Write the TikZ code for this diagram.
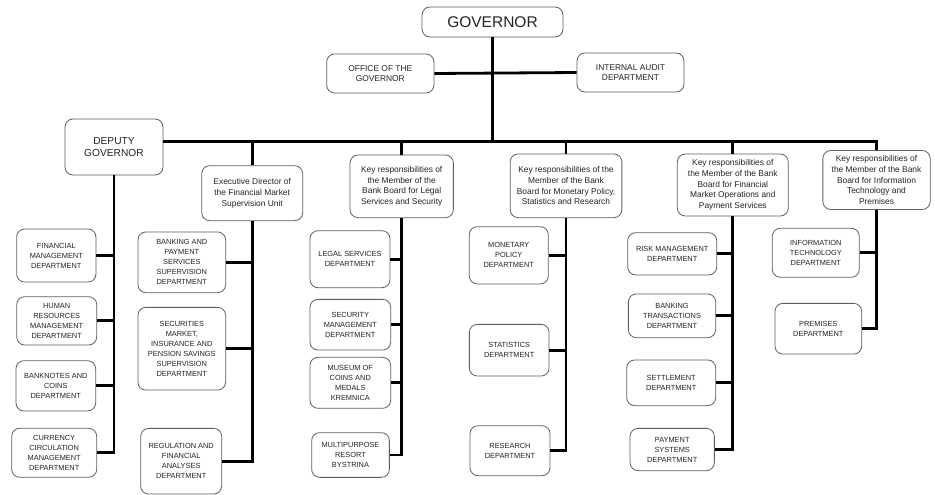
\documentclass[tikz,border=0pt]{standalone}
\usepackage{fontspec}
\setmainfont{Liberation Sans}
\definecolor{boxline}{RGB}{95,95,95}
\definecolor{ink}{RGB}{35,35,35}
\begin{document}
\begin{tikzpicture}[x=1pt,y=-1pt,
  orgbox/.style={draw=boxline, line width=0.8pt, rounded corners=8pt, align=center,
    inner sep=0pt, text=ink, fill=white},
  sz/.style 2 args={minimum width=#1pt, minimum height=#2pt},
  dept/.style={orgbox, font=\fontsize{7.4}{10}\selectfont},
  keybox/.style={orgbox, font=\fontsize{8.4}{10.7}\selectfont},
  link/.style={line width=2.8pt, draw=black}]
\fill[white] (0,0) rectangle (935,495);
\useasboundingbox (0,0) rectangle (935,495);

% top management
\node[orgbox, sz={141}{30}, font=\fontsize{15.5}{18}\selectfont] (gov) at (492.5,22) {GOVERNOR};
\node[keybox, sz={107.3}{39}] (office) at (380.3,73.5) {OFFICE OF THE\\GOVERNOR};
\node[keybox, sz={107}{39}] (audit) at (630.5,72.5) {INTERNAL AUDIT\\DEPARTMENT};
\node[orgbox, sz={98}{56}, font=\fontsize{10.2}{12.7}\selectfont] (deputy) at (114,147) {DEPUTY\\GOVERNOR};

% heads of units
\node[keybox, sz={101}{55}] (exec) at (252.2,193.2) {Executive Director of\\the Financial Market\\Supervision Unit};
\node[keybox, sz={103.3}{62.7}] (legalkey) at (401.7,186.3) {Key responsibilities of\\the Member of the\\Bank Board for Legal\\Services and Security};
\node[keybox, sz={111.7}{63.7}] (monkey) at (566,185.8) {Key responsibilities of the\\Member of the Bank\\Board for Monetary Policy,\\Statistics and Research};
\node[keybox, sz={111}{62}] (finkey) at (732.8,185) {Key responsibilities of\\the Member of the Bank\\Board for Financial\\Market Operations and\\Payment Services};
\node[keybox, sz={107.3}{59}] (itkey) at (876.5,180) {Key responsibilities of\\the Member of the Bank\\Board for Information\\Technology and\\Premises};

% deputy governor departments
\node[dept, sz={79.3}{53}] (fm) at (56.3,255.5) {FINANCIAL\\MANAGEMENT\\DEPARTMENT};
\node[dept, sz={80}{48.3}] (hr) at (56.7,320.8) {HUMAN\\RESOURCES\\MANAGEMENT\\DEPARTMENT};
\node[dept, sz={79.7}{50.3}] (bank) at (55.8,385.8) {BANKNOTES AND\\COINS\\DEPARTMENT};
\node[dept, sz={85}{49}] (curr) at (54.2,452.8) {CURRENCY\\CIRCULATION\\MANAGEMENT\\DEPARTMENT};

% supervision departments
\node[dept, sz={87.7}{60.7}] (bps) at (181.8,262.3) {BANKING AND\\PAYMENT\\SERVICES\\SUPERVISION\\DEPARTMENT};
\node[dept, sz={87.7}{82.7}] (sec) at (181.8,348.7) {SECURITIES\\MARKET,\\INSURANCE AND\\PENSION SAVINGS\\SUPERVISION\\DEPARTMENT};
\node[dept, sz={81}{65.7}] (reg) at (181.2,461.2) {REGULATION AND\\FINANCIAL\\ANALYSES\\DEPARTMENT};

% legal services and security
\node[dept, sz={80}{57}] (legal) at (350,259.2) {LEGAL SERVICES\\DEPARTMENT};
\node[dept, sz={80.7}{50.7}] (secm) at (350.3,324.7) {SECURITY\\MANAGEMENT\\DEPARTMENT};
\node[dept, sz={80.7}{51}] (mus) at (350.3,382.8) {MUSEUM OF\\COINS AND\\MEDALS\\KREMNICA};
\node[dept, sz={77.7}{44.7}] (multi) at (350.5,455) {MULTIPURPOSE\\RESORT\\BYSTRINA};

% monetary policy, statistics and research
\node[dept, sz={79}{57.3}] (mp) at (508.8,255.3) {MONETARY\\POLICY\\DEPARTMENT};
\node[dept, sz={79.7}{51.7}] (stat) at (509.2,350.2) {STATISTICS\\DEPARTMENT};
\node[dept, sz={80}{50}] (res) at (510,450.7) {RESEARCH\\DEPARTMENT};

% financial market operations and payment services
\node[dept, sz={89}{42.3}] (risk) at (672.2,253.8) {RISK MANAGEMENT\\DEPARTMENT};
\node[dept, sz={87.3}{43.7}] (btr) at (672,315.8) {BANKING\\TRANSACTIONS\\DEPARTMENT};
\node[dept, sz={89}{45.7}] (settle) at (671.2,382.8) {SETTLEMENT\\DEPARTMENT};
\node[dept, sz={84.3}{42.3}] (pay) at (672.2,449.5) {PAYMENT\\SYSTEMS\\DEPARTMENT};

% information technology and premises
\node[dept, sz={87}{49}] (it) at (815.8,252.8) {INFORMATION\\TECHNOLOGY\\DEPARTMENT};
\node[dept, sz={86.7}{50.7}] (prem) at (818.3,328.7) {PREMISES\\DEPARTMENT};

% main bar below the governor
\coordinate (barE) at (876.5,141.7);
\draw[link] (gov.south) -- (gov.south |- barE);
\draw[link] (office.east) -- (audit.west);
\draw[link] (deputy.east |- barE) -- (barE) -- (itkey.north);

% deputy governor column
\draw[link] (deputy.south) -- (deputy.south |- curr.east) -- (curr.east);
\foreach \d in {fm,hr,bank} \draw[link] (\d.east) -- (\d.east -| deputy.south);

% supervision column
\draw[link] (exec.north) -- (exec.north |- barE);
\draw[link] (exec.south) -- (exec.south |- reg.east) -- (reg.east);
\foreach \d in {bps,sec} \draw[link] (\d.east) -- (\d.east -| exec.south);

% legal services column
\draw[link] (legalkey.north) -- (legalkey.north |- barE);
\draw[link] (legalkey.south) -- (legalkey.south |- multi.east) -- (multi.east);
\foreach \d in {legal,secm,mus} \draw[link] (\d.east) -- (\d.east -| legalkey.south);

% monetary policy column
\draw[link] (monkey.north) -- (monkey.north |- barE);
\draw[link] (monkey.south) -- (monkey.south |- res.east) -- (res.east);
\foreach \d in {mp,stat} \draw[link] (\d.east) -- (\d.east -| monkey.south);

% financial market column
\draw[link] (finkey.north) -- (finkey.north |- barE);
\draw[link] (finkey.south) -- (finkey.south |- pay.east) -- (pay.east);
\foreach \d in {risk,btr,settle} \draw[link] (\d.east) -- (\d.east -| finkey.south);

% information technology column
\draw[link] (itkey.south) -- (itkey.south |- prem.east) -- (prem.east);
\draw[link] (it.east) -- (it.east -| itkey.south);
\end{tikzpicture}
\end{document}
